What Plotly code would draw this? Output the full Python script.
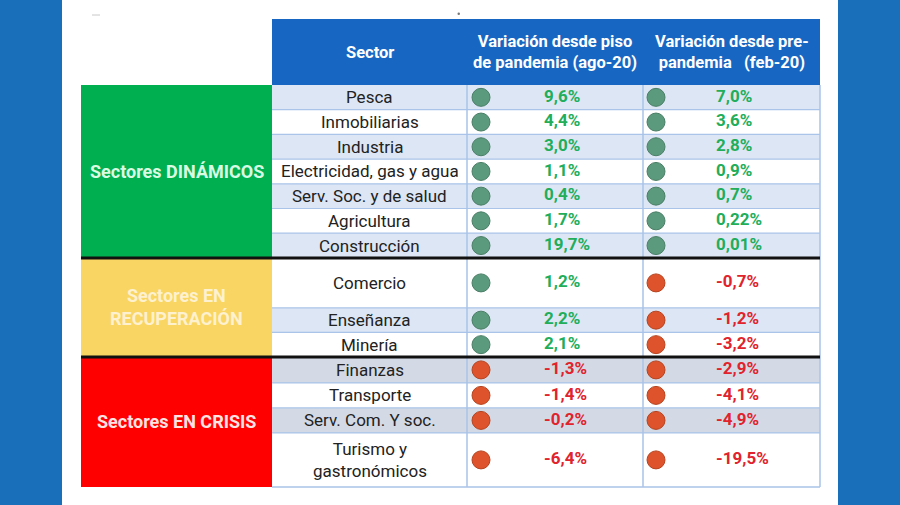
import plotly.graph_objects as go

# ---------------- data ----------------
groups = ["Sectores DINÁMICOS", "Sectores EN<br>RECUPERACIÓN", "Sectores EN CRISIS"]
group_sizes = [7, 3, 4]
sectors = ["Pesca", "Inmobiliarias", "Industria", "Electricidad, gas y agua",
           "Serv. Soc. y de salud", "Agricultura", "Construcción",
           "Comercio", "Enseñanza", "Minería",
           "Finanzas", "Transporte", "Serv. Com. Y soc.", "Turismo y<br>gastronómicos"]
var_ago20 = [9.6, 4.4, 3.0, 1.1, 0.4, 1.7, 19.7, 1.2, 2.2, 2.1, -1.3, -1.4, -0.2, -6.4]
var_feb20 = [7.0, 3.6, 2.8, 0.9, 0.7, 0.22, 0.01, -0.7, -1.2, -3.2, -2.9, -4.1, -4.9, -19.5]
decimals_feb = [1, 1, 1, 1, 1, 2, 2, 1, 1, 1, 1, 1, 1, 1]
headers = ["Sector", "Variación desde piso<br>de pandemia (ago-20)",
           "Variación desde pre-<br>pandemia   (feb-20)"]

# ---------------- layout constants ----------------
W, H = 900, 505
row_h = [24.7] * 7 + [50, 24.5, 24.5] + [26, 25, 25, 54]
top = 85
hdr_top = 19
x_cat0, x_cat1 = 81, 272
x_c1, x_c2, x_c3 = 467, 643, 820
band_cols = ["#dce6f5", "white", "#dce6f5", "white", "#dce6f5", "white", "#dce6f5",
             "white", "#dce6f5", "white",
             "#d3dae6", "white", "#d3dae6", "white"]
group_fill = ["#00b050", "#f9d563", "#fe0000"]
group_text = ["#d9fbe2", "#fdf1cf", "#ffe3e3"]
side_blue = "#1a6fba"
hdr_blue = "#1767c2"
grid = "#a9c3e9"
pos_dot, neg_dot = "#5b9a7d", "#de532b"
pos_txt, neg_txt = "#22ad59", "#e0232c"
FONT = "Roboto"

def fmt(v, d):
    s = f"{v:.{d}f}".replace(".", ",")
    return s + "%"

# row geometry
y0s, y1s = [], []
acc = top
for h in row_h:
    y0s.append(acc)
    acc += h
    y1s.append(acc)
yc = [(a + b) / 2 for a, b in zip(y0s, y1s)]

shapes = []
annotations = []

# side blue bands
shapes.append(dict(type="rect", x0=0, x1=62, y0=0, y1=H, fillcolor=side_blue, line_width=0, layer="below"))
shapes.append(dict(type="rect", x0=838, x1=W, y0=0, y1=H, fillcolor=side_blue, line_width=0, layer="below"))
# tiny stray marks at top
shapes.append(dict(type="line", x0=92, x1=100, y0=15, y1=15, line=dict(color="#c8c8c8", width=1)))
shapes.append(dict(type="circle", x0=457.5, x1=460, y0=12.5, y1=15, fillcolor="#777777", line_width=0))

# header
shapes.append(dict(type="rect", x0=x_cat1, x1=x_c3, y0=hdr_top, y1=top, fillcolor=hdr_blue, line_width=0, layer="below"))
hx = [(x_cat1 + x_c1) / 2, (x_c1 + x_c2) / 2, (x_c2 + x_c3) / 2]
for x, t in zip(hx, headers):
    annotations.append(dict(x=x, y=(hdr_top + top) / 2, text=f"<b>{t}</b>", showarrow=False,
                            font=dict(family=FONT, size=16.5, color="white"), xanchor="center", yanchor="middle"))

# row bands
for i in range(len(sectors)):
    shapes.append(dict(type="rect", x0=x_cat1, x1=x_c3, y0=y0s[i], y1=y1s[i],
                       fillcolor=band_cols[i], line_width=0, layer="below"))
    annotations.append(dict(x=(x_cat1 + x_c1) / 2, y=yc[i], text=sectors[i], showarrow=False,
                            font=dict(family=FONT, size=17, color="#222222"),
                            xanchor="center", yanchor="middle"))

# grid lines
for i in range(1, len(sectors)):
    shapes.append(dict(type="line", x0=x_cat1, x1=x_c3, y0=y0s[i], y1=y0s[i],
                       line=dict(color=grid, width=1.2), layer="below"))
shapes.append(dict(type="line", x0=x_cat1, x1=x_c3, y0=y1s[-1], y1=y1s[-1],
                   line=dict(color=grid, width=1.5), layer="below"))
for x in [x_c1, x_c2, x_c3]:
    shapes.append(dict(type="line", x0=x, x1=x, y0=top, y1=y1s[-1],
                       line=dict(color=grid, width=1.5), layer="below"))

# group boxes
gi = 0
for g, n in enumerate(group_sizes):
    gy0, gy1 = y0s[gi], y1s[gi + n - 1]
    shapes.append(dict(type="rect", x0=x_cat0, x1=x_cat1, y0=gy0, y1=gy1,
                       fillcolor=group_fill[g], line_width=0, layer="below"))
    annotations.append(dict(x=(x_cat0 + x_cat1) / 2, y=(gy0 + gy1) / 2, text=f"<b>{groups[g]}</b>",
                            showarrow=False, font=dict(family=FONT, size=18, color=group_text[g]),
                            xanchor="center", yanchor="middle"))
    if g > 0:
        shapes.append(dict(type="line", x0=x_cat0, x1=x_c3, y0=gy0, y1=gy0,
                           line=dict(color="#111111", width=3)))
    gi += n

fig = go.Figure()

# dots
for vals, xd in [(var_ago20, x_c1 + 14), (var_feb20, x_c2 + 13)]:
    fig.add_trace(go.Scatter(
        x=[xd] * len(vals), y=yc, mode="markers",
        marker=dict(size=18, color=[pos_dot if v > 0 else neg_dot for v in vals],
                    line=dict(color=["#4a7e66" if v > 0 else "#b5431f" for v in vals], width=1)),
        hoverinfo="skip", showlegend=False))

# values
fig.add_trace(go.Scatter(
    x=[x_c1 + 77] * len(var_ago20), y=yc, mode="text", textposition="middle right",
    text=[f"<b>{fmt(v, 1)}</b>" for v in var_ago20],
    textfont=dict(family=FONT, size=17, color=[pos_txt if v > 0 else neg_txt for v in var_ago20]),
    hoverinfo="skip", showlegend=False))
fig.add_trace(go.Scatter(
    x=[x_c2 + 73] * len(var_feb20), y=yc, mode="text", textposition="middle right",
    text=[f"<b>{fmt(v, d)}</b>" for v, d in zip(var_feb20, decimals_feb)],
    textfont=dict(family=FONT, size=17, color=[pos_txt if v > 0 else neg_txt for v in var_feb20]),
    hoverinfo="skip", showlegend=False))

fig.update_layout(
    width=W, height=H, margin=dict(l=0, r=0, t=0, b=0),
    paper_bgcolor="white", plot_bgcolor="white",
    xaxis=dict(range=[0, W], visible=False, fixedrange=True),
    yaxis=dict(range=[H, 0], visible=False, fixedrange=True),
    shapes=shapes, annotations=annotations,
)
fig.write_html("out.html", config={"displayModeBar": False, "staticPlot": True},
               post_script="document.body.style.margin='0';document.body.style.overflow='hidden';")
